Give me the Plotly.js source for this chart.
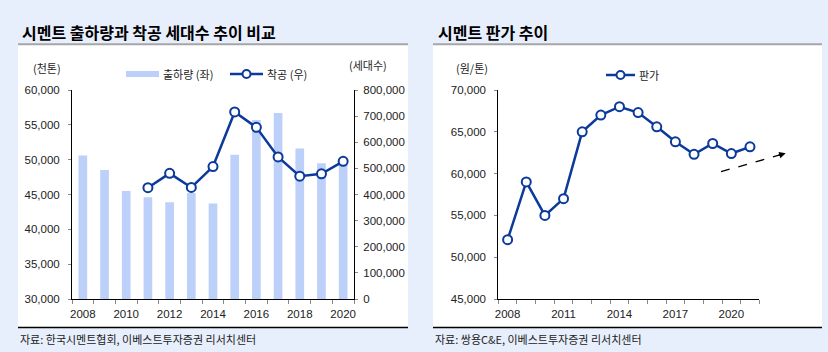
<!DOCTYPE html>
<html>
<head>
<meta charset="utf-8">
<script src="https://cdn.plot.ly/plotly-3.0.1.min.js"></script>
<style>html,body{margin:0;padding:0;background:#E8EFFC;}#chart{width:828px;height:352px;}</style>
</head>
<body>
<div id="chart"></div>
<script>
// ---- data ----
const shipYears = [2008, 2009, 2010, 2011, 2012, 2013, 2014, 2015, 2016, 2017, 2018, 2019, 2020];
const shipments = [50600, 48500, 45500, 44600, 43900, 45200, 43700, 50700, 55700, 56700, 51600, 49500, 50300];
const startYears = [2011, 2012, 2013, 2014, 2015, 2016, 2017, 2018, 2019, 2020];
const housingStarts = [426000, 481000, 427000, 507000, 716000, 657000, 544000, 470000, 479000, 527000];
const priceYears = [2008, 2009, 2010, 2011, 2012, 2013, 2014, 2015, 2016, 2017, 2018, 2019, 2020, 2021];
const prices = [52100, 59000, 55000, 57000, 65000, 67000, 68000, 67300, 65600, 63800, 62300, 63600, 62400, 63200];
const leftTickYears = [2008, 2010, 2012, 2014, 2016, 2018, 2020];
const rightTickYears = [2008, 2011, 2014, 2017, 2020];
const leftTitle = '시멘트 출하량과 착공 세대수 추이 비교';
const rightTitle = '시멘트 판가 추이';
const leftSource = '자료: 한국시멘트협회, 이베스트투자증권 리서치센터';
const rightSource = '자료: 쌍용C&E, 이베스트투자증권 리서치센터';

// ---- helpers ----
const W = 828, H = 352;
const px = v => v / W;
const py = v => 1 - v / H;
const BAR = '#BCD0FA';
const LINE = '#0B3A9B';
const KR = '"Noto Sans CJK KR", "Noto Sans", sans-serif';
const NUM = '"Liberation Sans Narrow", "Arial Narrow", "Liberation Sans", Arial, sans-serif';
const tickFont = {family: NUM, size: 11.5, color: '#222'};

const traces = [
  {type: 'bar', x: shipYears, y: shipments, xaxis: 'x', yaxis: 'y',
   marker: {color: BAR}, width: 0.4, showlegend: false, hoverinfo: 'x+y'},
  {type: 'scatter', mode: 'lines+markers', x: startYears, y: housingStarts, xaxis: 'x', yaxis: 'y2',
   line: {color: LINE, width: 2.5}, marker: {size: 9, color: '#fff', line: {color: LINE, width: 2}},
   showlegend: false, cliponaxis: false},
  {type: 'scatter', mode: 'lines+markers', x: priceYears, y: prices, xaxis: 'x2', yaxis: 'y3',
   line: {color: LINE, width: 2.5}, marker: {size: 9, color: '#fff', line: {color: LINE, width: 2}},
   showlegend: false, cliponaxis: false}
];

const yTop = py(90), yBot = py(299);
function xAxisCommon(extra) {
  return Object.assign({
    type: 'linear', showgrid: false, zeroline: false, showline: true, linecolor: '#000', linewidth: 1,
    ticks: 'outside', ticklen: 4, tickcolor: 'rgba(0,0,0,0)', tickfont: tickFont,
    minor: {ticks: 'outside', ticklen: 4, tickcolor: '#888', tickwidth: 1, tick0: 2007.5, dtick: 1, showgrid: false},
    fixedrange: true
  }, extra);
}
function yAxisCommon(extra) {
  return Object.assign({
    showgrid: false, zeroline: false, showline: true, linecolor: '#000', linewidth: 1,
    ticks: 'outside', ticklen: 3, tickcolor: '#888', tickfont: tickFont, tickformat: ',d',
    fixedrange: true
  }, extra);
}

const layout = {
  width: W, height: H,
  margin: {l: 0, r: 0, t: 0, b: 0},
  paper_bgcolor: '#E8EFFC', plot_bgcolor: '#fff',
  showlegend: false,
  xaxis: xAxisCommon({domain: [px(72), px(354)], range: [2007.5, 2020.5],
    tickmode: 'array', tickvals: leftTickYears, ticktext: leftTickYears.map(String), anchor: 'y'}),
  yaxis: yAxisCommon({domain: [yBot, yTop], range: [30000, 60000], dtick: 5000, tick0: 30000, anchor: 'x', ticklabelstandoff: 6}),
  yaxis2: yAxisCommon({domain: [yBot, yTop], range: [0, 800000], dtick: 100000, tick0: 0, overlaying: 'y', side: 'right', anchor: 'x', ticklabelstandoff: 3}),
  xaxis2: xAxisCommon({domain: [px(498.3), px(759.3)], range: [2007.5, 2021.5],
    tickmode: 'array', tickvals: rightTickYears, ticktext: rightTickYears.map(String), anchor: 'y3'}),
  yaxis3: yAxisCommon({domain: [yBot, yTop], range: [45000, 70000], dtick: 5000, tick0: 45000, anchor: 'x2', ticklabelstandoff: 6}),
  shapes: [
    // white panels
    {type: 'rect', xref: 'paper', yref: 'paper', x0: px(18), x1: px(408), y0: py(327), y1: py(45), fillcolor: '#fff', line: {width: 0}, layer: 'below'},
    {type: 'rect', xref: 'paper', yref: 'paper', x0: px(433), x1: px(822), y0: py(327), y1: py(45), fillcolor: '#fff', line: {width: 0}, layer: 'below'},
    // title underlines
    {type: 'line', xref: 'paper', yref: 'paper', x0: px(18), x1: px(408), y0: py(44.3), y1: py(44.3), line: {color: '#A6A6A6', width: 2}},
    {type: 'line', xref: 'paper', yref: 'paper', x0: px(433), x1: px(822), y0: py(44.3), y1: py(44.3), line: {color: '#A6A6A6', width: 2}},
    // bottom rules
    {type: 'line', xref: 'paper', yref: 'paper', x0: px(18), x1: px(408), y0: py(327.5), y1: py(327.5), line: {color: '#000', width: 1.5}},
    {type: 'line', xref: 'paper', yref: 'paper', x0: px(433), x1: px(822), y0: py(327.5), y1: py(327.5), line: {color: '#000', width: 1.5}},
    // legend symbols (left)
    {type: 'rect', xref: 'paper', yref: 'paper', x0: px(126), x1: px(159), y0: py(77), y1: py(71), fillcolor: BAR, line: {width: 0}},
    {type: 'line', xref: 'paper', yref: 'paper', x0: px(230), x1: px(263), y0: py(74), y1: py(74), line: {color: LINE, width: 2.5}},
    {type: 'circle', xref: 'paper', yref: 'paper', x0: px(242.5), x1: px(250.5), y0: py(78), y1: py(70), fillcolor: '#fff', line: {color: LINE, width: 2}},
    // legend symbol (right)
    {type: 'line', xref: 'paper', yref: 'paper', x0: px(606), x1: px(635), y0: py(75), y1: py(75), line: {color: LINE, width: 2.5}},
    {type: 'circle', xref: 'paper', yref: 'paper', x0: px(616.5), x1: px(624.5), y0: py(79), y1: py(71), fillcolor: '#fff', line: {color: LINE, width: 2}},
    // dashed trend arrow
    {type: 'line', xref: 'paper', yref: 'paper', x0: px(721), x1: px(780), y0: py(171.7), y1: py(154.9), line: {color: '#000', width: 1.3, dash: 'dash'}}
  ],
  annotations: [
    {xref: 'paper', yref: 'paper', x: px(20), y: py(32), xanchor: 'left', yanchor: 'middle', showarrow: false,
     text: '<b>' + leftTitle + '</b>', font: {family: KR, size: 16, color: '#000', weight: 900}},
    {xref: 'paper', yref: 'paper', x: px(436), y: py(32), xanchor: 'left', yanchor: 'middle', showarrow: false,
     text: '<b>' + rightTitle + '</b>', font: {family: KR, size: 16, color: '#000', weight: 900}},
    {xref: 'paper', yref: 'paper', x: px(47), y: py(67.5), xanchor: 'center', yanchor: 'middle', showarrow: false,
     text: '(천톤)', font: {family: KR, size: 11, color: '#222'}},
    {xref: 'paper', yref: 'paper', x: px(368), y: py(65.5), xanchor: 'center', yanchor: 'middle', showarrow: false,
     text: '(세대수)', font: {family: KR, size: 11, color: '#222'}},
    {xref: 'paper', yref: 'paper', x: px(472), y: py(68), xanchor: 'center', yanchor: 'middle', showarrow: false,
     text: '(원/톤)', font: {family: KR, size: 11, color: '#222'}},
    {xref: 'paper', yref: 'paper', x: px(161), y: py(74), xanchor: 'left', yanchor: 'middle', showarrow: false,
     text: '출하량 (좌)', font: {family: KR, size: 11, color: '#222'}},
    {xref: 'paper', yref: 'paper', x: px(265), y: py(74), xanchor: 'left', yanchor: 'middle', showarrow: false,
     text: '착공 (우)', font: {family: KR, size: 11, color: '#222'}},
    {xref: 'paper', yref: 'paper', x: px(637), y: py(75), xanchor: 'left', yanchor: 'middle', showarrow: false,
     text: '판가', font: {family: KR, size: 11, color: '#222'}},
    {xref: 'paper', yref: 'paper', x: px(18), y: py(339), xanchor: 'left', yanchor: 'middle', showarrow: false,
     text: leftSource, font: {family: KR, size: 11, color: '#222'}},
    {xref: 'paper', yref: 'paper', x: px(433), y: py(339), xanchor: 'left', yanchor: 'middle', showarrow: false,
     text: rightSource, font: {family: KR, size: 11, color: '#222'}},
    // arrowhead
    {xref: 'paper', yref: 'paper', x: px(785.7), y: py(153.3), showarrow: true, text: '', arrowhead: 2, arrowsize: 1,
     arrowwidth: 1.3, arrowcolor: '#000', ax: -9, ay: 2.6, standoff: 0}
  ]
};

Plotly.newPlot('chart', traces, layout, {displayModeBar: false, staticPlot: true});
</script>
</body>
</html>
